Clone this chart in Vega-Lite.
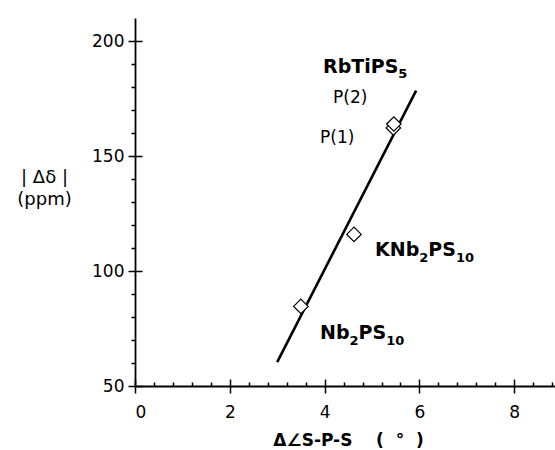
{
  "$schema": "https://vega.github.io/schema/vega-lite/v6.json",
  "width": 420,
  "height": 368,
  "autosize": {"type": "none"},
  "padding": {"left": 135, "top": 18, "right": 0, "bottom": 64},
  "background": "white",
  "config": {
    "view": {"stroke": null},
    "axis": {"grid": false, "domainColor": "black", "tickColor": "black", "labelColor": "black", "titleColor": "black", "labelFont": "DejaVu Sans", "titleFont": "DejaVu Sans", "domainWidth": 1.8, "tickWidth": 1.5}
  },
  "datasets": {
    "fit": [{"x": 3.0, "y": 60.4}, {"x": 5.93, "y": 178.4}],
    "pts": [
      {"x": 3.50, "y": 84.6},
      {"x": 4.62, "y": 115.9},
      {"x": 5.45, "y": 162.2},
      {"x": 5.46, "y": 163.9}
    ],
    "labels": [
      {"x": 3.966, "y": 186.1, "t": "RbTiPS", "k": "main"},
      {"x": 5.555, "y": 183.9, "t": "5", "k": "sub"},
      {"x": 4.177, "y": 173.0, "t": "P(2)", "k": "plain"},
      {"x": 3.903, "y": 155.7, "t": "P(1)", "k": "plain"},
      {"x": 5.063, "y": 106.5, "t": "KNb", "k": "main"},
      {"x": 5.996, "y": 103.9, "t": "2", "k": "sub"},
      {"x": 6.188, "y": 106.5, "t": "PS", "k": "main"},
      {"x": 6.770, "y": 103.9, "t": "10", "k": "sub"},
      {"x": 3.903, "y": 70.4, "t": "Nb", "k": "main"},
      {"x": 4.525, "y": 67.8, "t": "2", "k": "sub"},
      {"x": 4.717, "y": 70.4, "t": "PS", "k": "main"},
      {"x": 5.300, "y": 67.8, "t": "10", "k": "sub"}
    ]
  },
  "layer": [
    {
      "data": {"name": "fit"},
      "mark": {"type": "line", "color": "black", "strokeWidth": 2.6},
      "encoding": {
        "x": {"field": "x", "type": "quantitative", "scale": {"domain": [0, 8.86], "nice": false, "zero": false},
          "axis": {"orient": "bottom", "values": [0, 2, 4, 6, 8], "tickSize": 7, "labelFontSize": 17, "labelPadding": 11,
            "title": "Δ∠S-P-S\u00a0\u00a0\u00a0\u00a0(\u00a0\u00a0°\u00a0\u00a0)", "titleFontSize": 17, "titleFontWeight": "bold", "titlePadding": 12, "titleX": 213}},
        "y": {"field": "y", "type": "quantitative", "scale": {"domain": [50, 210], "nice": false, "zero": false},
          "axis": {"orient": "left", "values": [50, 100, 150, 200], "tickSize": 7, "labelFontSize": 17, "labelPadding": 4,
            "title": ["| Δδ |", "(ppm)"], "titleFontSize": 18, "titleFontWeight": "normal", "titleAngle": 0,
            "titleAlign": "center", "titleBaseline": "alphabetic", "titleX": -91, "titleY": 164, "titleLineHeight": 22}}
      }
    },
    {
      "data": {"name": "pts"},
      "mark": {"type": "point", "shape": "diamond", "size": 210, "filled": true, "fill": "white", "stroke": "black", "strokeWidth": 1.2, "opacity": 1},
      "encoding": {
        "x": {"field": "x", "type": "quantitative",
          "axis": {"orient": "bottom", "values": [0, 2, 4, 6, 8], "tickSize": -7, "labels": false, "domain": false, "title": null}},
        "y": {"field": "y", "type": "quantitative",
          "axis": {"orient": "left", "values": [50, 100, 150, 200], "tickSize": -7, "labels": false, "domain": false, "title": null}}
      }
    },
    {
      "data": {"name": "labels"},
      "transform": [{"filter": "datum.k === 'main'"}],
      "mark": {"type": "text", "align": "left", "baseline": "alphabetic", "font": "DejaVu Sans", "fontWeight": "bold", "fontSize": 19, "color": "black"},
      "encoding": {
        "x": {"field": "x", "type": "quantitative",
          "axis": {"orient": "bottom", "values": [0.4, 0.8, 1.2, 1.6, 2.4, 2.8, 3.2, 3.6, 4.4, 4.8, 5.2, 5.6, 6.4, 6.8, 7.2, 7.6, 8.4, 8.8], "tickSize": -4, "labels": false, "domain": false, "title": null}},
        "y": {"field": "y", "type": "quantitative",
          "axis": {"orient": "left", "values": [60, 70, 80, 90, 110, 120, 130, 140, 160, 170, 180, 190], "tickSize": 4, "labels": false, "domain": false, "title": null}},
        "text": {"field": "t"}
      }
    },
    {
      "data": {"name": "labels"},
      "transform": [{"filter": "datum.k === 'sub'"}],
      "mark": {"type": "text", "align": "left", "baseline": "alphabetic", "font": "DejaVu Sans", "fontWeight": "bold", "fontSize": 13, "color": "black"},
      "encoding": {
        "x": {"field": "x", "type": "quantitative", "axis": null},
        "y": {"field": "y", "type": "quantitative", "axis": null},
        "text": {"field": "t"}
      }
    },
    {
      "data": {"name": "labels"},
      "transform": [{"filter": "datum.k === 'plain'"}],
      "mark": {"type": "text", "align": "left", "baseline": "alphabetic", "font": "DejaVu Sans", "fontSize": 17, "color": "black"},
      "encoding": {
        "x": {"field": "x", "type": "quantitative", "axis": null},
        "y": {"field": "y", "type": "quantitative", "axis": null},
        "text": {"field": "t"}
      }
    }
  ],
  "resolve": {"axis": {"x": "independent", "y": "independent"}}
}
